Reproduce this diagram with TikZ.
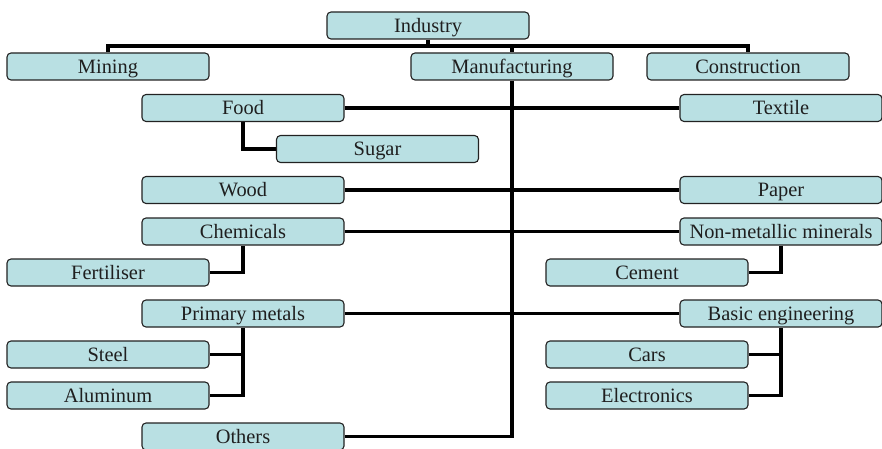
\documentclass[tikz,border=0pt]{standalone}
\usepackage{fontspec}
\setmainfont{Liberation Serif}
\usetikzlibrary{backgrounds}
\definecolor{boxfill}{HTML}{B9E0E3}
\definecolor{boxline}{HTML}{222222}
\begin{document}
\begin{tikzpicture}[x=1pt,y=-1pt,
  box/.style={draw=boxline,line width=1.1pt,fill=boxfill,rounded corners=4pt,
    minimum width=202pt,minimum height=27pt,inner sep=0pt,
    text height=16pt,text depth=2.4pt,
    font=\fontsize{20.4}{24}\selectfont,text=black!88},
  conn/.style={line width=3.6pt,black}]
\useasboundingbox (0,0) rectangle (882,449);
\coordinate (bar) at (0,46);
\node[box] (Industry) at (428,25.5) {Industry};
\node[box] (Mining) at (108,66.5) {Mining};
\node[box] (Manufacturing) at (512,66.5) {Manufacturing};
\node[box] (Construction) at (748,66.5) {Construction};
\node[box] (Food) at (243,108) {Food};
\node[box] (Textile) at (781,108) {Textile};
\node[box] (Sugar) at (377.5,149) {Sugar};
\node[box] (Wood) at (243,190) {Wood};
\node[box] (Paper) at (781,190) {Paper};
\node[box] (Chemicals) at (243,231.5) {Chemicals};
\node[box] (NMM) at (781,231.5) {Non-metallic minerals};
\node[box] (Fertiliser) at (108,272.5) {Fertiliser};
\node[box] (Cement) at (647,272.5) {Cement};
\node[box] (PM) at (243,313.5) {Primary metals};
\node[box] (BE) at (781,313.5) {Basic engineering};
\node[box] (Steel) at (108,354.5) {Steel};
\node[box] (Aluminum) at (108,395.5) {Aluminum};
\node[box] (Cars) at (647,354.5) {Cars};
\node[box] (Electronics) at (647,395.5) {Electronics};
\node[box] (Others) at (243,436.5) {Others};
\begin{pgfonlayer}{background}
\draw[conn] (Industry.south) -- (Industry.south |- bar);
\draw[conn] (Mining.north) -- (Mining.north |- bar) -- (Construction.north |- bar) -- (Construction.north);
\draw[conn] (Manufacturing.north |- bar) -- (Manufacturing.north);
\draw[conn] (Manufacturing.south) |- (Others.east);
\draw[conn] (Food.east) -- (Textile.west);
\draw[conn] (Food.south) |- (Sugar.west);
\draw[conn] (Wood.east) -- (Paper.west);
\draw[conn] (Chemicals.east) -- (NMM.west);
\draw[conn] (Chemicals.south) |- (Fertiliser.east);
\draw[conn] (NMM.south) |- (Cement.east);
\draw[conn] (PM.east) -- (BE.west);
\draw[conn] (PM.south) |- (Aluminum.east);
\draw[conn] (PM.south |- Steel.east) -- (Steel.east);
\draw[conn] (BE.south) |- (Electronics.east);
\draw[conn] (BE.south |- Cars.east) -- (Cars.east);
\end{pgfonlayer}
\end{tikzpicture}
\end{document}
